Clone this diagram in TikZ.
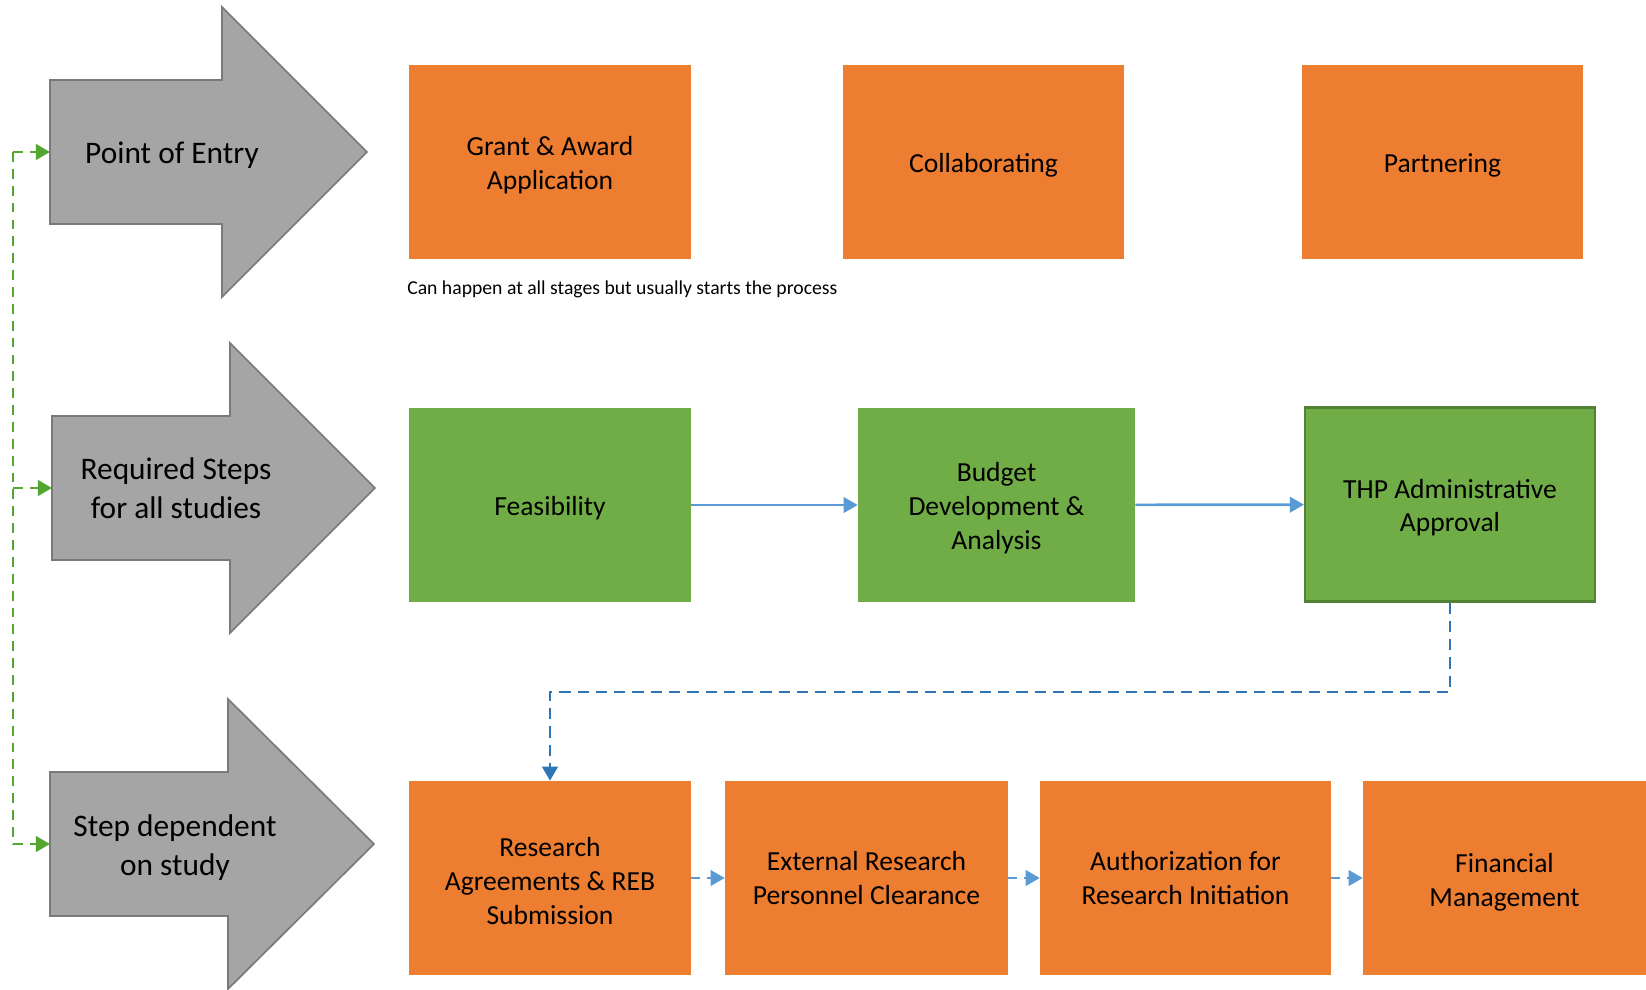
\documentclass[tikz,border=0pt]{standalone}
\usepackage{fontspec}
\setmainfont{Carlito}
\usetikzlibrary{arrows.meta}

\definecolor{boxorange}{HTML}{ED7D31}
\definecolor{boxgreen}{HTML}{70AD47}
\definecolor{boxgreenline}{HTML}{548235}
\definecolor{arrowgray}{HTML}{A5A5A5}
\definecolor{arrowgrayline}{HTML}{7A7A7A}
\definecolor{flowblue}{HTML}{5B9BD5}
\definecolor{jumpblue}{HTML}{2E75B6}
\definecolor{railgreen}{HTML}{53A62F}

\newcommand{\boxfont}{\fontsize{19.6}{23.9}\selectfont}
\newcommand{\armfont}{\fontsize{22.3}{27.6}\selectfont}
% taller first line, pushes the text a little down in its box
\newcommand{\lift}{\rule{0pt}{18pt}}

\tikzset{
  orangebox/.style={fill=boxorange, inner sep=0pt, align=center,
    minimum height=4.85cm, minimum width={#1*0.025cm}, font=\boxfont},
  greenbox/.style={orangebox=#1, fill=boxgreen},
  bigarrow/.style={fill=arrowgray, draw=arrowgrayline, line width=1.2pt, line join=miter},
  armlabel/.style={align=center, inner sep=0pt, font=\armfont},
  flowline/.style={draw=flowblue, line width=1.9pt, -{Triangle[length=10pt,width=11pt]}},
  stepline/.style={flowline, dash pattern=on 6pt off 5pt},
  jumpline/.style={draw=jumpblue, line width=2pt, dash pattern=on 8pt off 5pt,
    -{Triangle[length=10pt,width=11pt]}},
  railline/.style={draw=railgreen, line width=2pt, dash pattern=on 7pt off 5pt},
}

\begin{document}
\begin{tikzpicture}[x=0.025cm, y=-0.025cm]
  \useasboundingbox (0,0) rectangle (1646,989);

  % grey row arrows
  \foreach \lx/\my/\hx/\tx/\nm in {50/152/172/317/entry, 52/488/178/323/required, 50/844/178/324/study}{
    \draw[bigarrow] (\lx,\my-72) -- (\lx+\hx,\my-72) -- (\lx+\hx,\my-145) -- (\lx+\tx,\my)
      -- (\lx+\hx,\my+145) -- (\lx+\hx,\my+72) -- (\lx,\my+72) -- cycle;
    \coordinate (\nm-in) at (\lx,\my);
  }
  \node[armlabel] (entrytext) at (172,155) {Point of Entry};
  \node[armlabel] (requiredtext) at (176,488) {Required Steps\\for all studies};
  \node[armlabel] (studytext) at (175,848) {Step dependent\\on study};

  % row 1
  \node[orangebox=282] (grant) at (550,162) {\lift Grant \& Award\\Application};
  \node[orangebox=281] (collab) at (983.5,162) {\lift Collaborating};
  \node[orangebox=281] (partner) at (1442.5,162) {\lift Partnering};
  \node[anchor=west, inner sep=0pt, font=\fontsize{14}{16}\selectfont] (note) at (407,289)
    {Can happen at all stages but usually starts the process};

  % row 2
  \node[greenbox=282] (feas) at (550,505) {\lift Feasibility};
  \node[greenbox=277] (budget) at (996.5,505) {\lift Budget\\Development \&\\Analysis};
  \node[greenbox=290, draw=boxgreenline, line width=1.5pt] (thp) at (1450,504.5)
    {\lift THP Administrative\\Approval};

  % row 3
  \node[orangebox=282] (research) at (550,878) {\lift Research\\Agreements \& REB\\Submission};
  \node[orangebox=283] (external) at (866.5,878) {External Research\\Personnel Clearance};
  \node[orangebox=291] (auth) at (1185.5,878) {Authorization for\\Research Initiation};
  \node[orangebox=283] (fin) at (1504.5,878) {\rule{0pt}{19.5pt}Financial\\Management};

  \draw[flowline] (feas) -- (budget);
  \draw[flowline] (budget) -- (thp);
  \coordinate (bend) at (550,692);
  \draw[jumpline] (thp.south) |- (bend) -- (research.north);
  \draw[stepline] (research) -- (external);
  \draw[stepline] (external) -- (auth);
  \draw[stepline] (auth) -- (fin);

  % green rail on the left
  \coordinate (rail) at (13,0);
  \draw[railline] (rail |- entry-in) -- (rail |- study-in);
  \foreach \t in {entry-in, required-in, study-in}
    \draw[railline, -{Triangle[length=10pt,width=11pt]}] (rail |- \t) -- (\t);
\end{tikzpicture}
\end{document}
